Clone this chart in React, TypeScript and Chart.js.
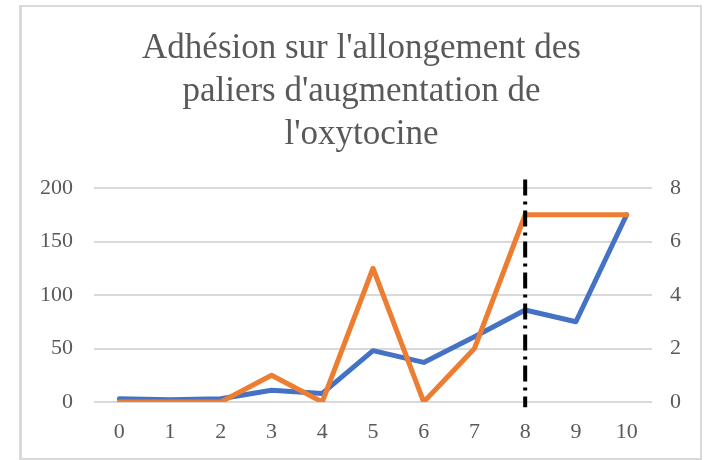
import React, { useEffect, useRef } from "react";
import { Chart, registerables } from "chart.js";

Chart.register(...registerables);

const categories = ["0", "1", "2", "3", "4", "5", "6", "7", "8", "9", "10"];
const adhesionValues = [3, 2, 3, 11, 8, 48, 37, 61, 86, 75, 175];
const allongementValues = [0, 0, 0, 1, 0, 5, 0, 2, 7, 7, 7];
const markerCategoryIndex = 8;
const leftTicksMax = 200;
const rightTicksMax = 8;
const titleLines = ["Adhésion sur l'allongement des", "paliers d'augmentation de", "l'oxytocine"];

const FONT = "'Liberation Serif', 'Times New Roman', serif";
const TEXT = "#595959";

const markerPlugin = {
  id: "markerLine",
  afterDatasetsDraw(chart: any) {
    const x = chart.scales.x.getPixelForValue(markerCategoryIndex);
    const y = chart.scales.y;
    const top = y.getPixelForValue(208);
    const bottom = y.getPixelForValue(-5);
    const ctx = chart.ctx;
    ctx.save();
    ctx.strokeStyle = "#000000";
    ctx.lineWidth = 4;
    ctx.setLineDash([16, 6, 3, 6]);
    ctx.beginPath();
    ctx.moveTo(x, top);
    ctx.lineTo(x, bottom);
    ctx.stroke();
    ctx.restore();
  },
};

export default function App() {
  const ref = useRef<HTMLCanvasElement | null>(null);
  useEffect(() => {
    if (!ref.current) return;
    const chart = new Chart(ref.current, {
      type: "line",
      data: {
        labels: categories,
        datasets: [
          {
            data: adhesionValues,
            borderColor: "#4472C4",
            backgroundColor: "#4472C4",
            borderWidth: 5,
            pointRadius: 0,
            tension: 0,
            yAxisID: "y",
            order: 2,
            borderJoinStyle: "round",
            borderCapStyle: "round",
          },
          {
            data: allongementValues,
            borderColor: "#ED7D31",
            backgroundColor: "#ED7D31",
            borderWidth: 5,
            pointRadius: 0,
            tension: 0,
            yAxisID: "y1",
            order: 1,
            borderJoinStyle: "round",
            borderCapStyle: "round",
          },
        ],
      },
      options: {
        animation: false,
        responsive: false,
        maintainAspectRatio: false,
        layout: { padding: { left: 19, right: 0, top: 0, bottom: 0 } },
        plugins: {
          legend: { display: false },
          tooltip: { enabled: false },
          title: {
            display: true,
            text: titleLines,
            color: TEXT,
            font: { family: FONT, size: 35, weight: "normal", lineHeight: 43 / 35 },
            padding: { top: 27.7, bottom: 31.3 },
          },
        },
        scales: {
          x: {
            offset: true,
            grid: { display: false, drawTicks: false },
            border: { display: false },
            ticks: { color: TEXT, font: { family: FONT, size: 22 }, padding: 17, maxRotation: 0 },
            afterFit(scale: any) {
              scale.height = 58;
            },
          },
          y: {
            position: "left",
            min: 0,
            max: leftTicksMax,
            ticks: { stepSize: 50, color: TEXT, font: { family: FONT, size: 22 }, padding: 21 },
            grid: { color: "#d9d9d9", lineWidth: 2, drawTicks: false },
            border: { display: false },
            afterFit(scale: any) {
              scale.width = 75;
            },
          },
          y1: {
            position: "right",
            min: 0,
            max: rightTicksMax,
            ticks: { stepSize: 2, color: TEXT, font: { family: FONT, size: 22 }, padding: 18 },
            grid: { display: false, drawTicks: false },
            border: { display: false },
            afterFit(scale: any) {
              scale.width = 52;
            },
          },
        },
      },
      plugins: [markerPlugin],
    } as any);
    return () => chart.destroy();
  }, []);

  return (
    <div style={{ position: "absolute", left: 0, top: 0, width: 704, height: 460, background: "#ffffff" }}>
      <canvas ref={ref} width={704} height={460} style={{ position: "absolute", left: 0, top: 0, width: 704, height: 460 }} />
      <div
        style={{
          position: "absolute",
          left: 19,
          top: 5,
          width: 683,
          height: 455,
          boxSizing: "border-box",
          borderTop: "2px solid #d9d9d9",
          borderRight: "2px solid #d9d9d9",
          borderBottom: "2px solid #d9d9d9",
          borderLeft: "3px solid #d9d9d9",
          pointerEvents: "none",
        }}
      />
    </div>
  );
}
